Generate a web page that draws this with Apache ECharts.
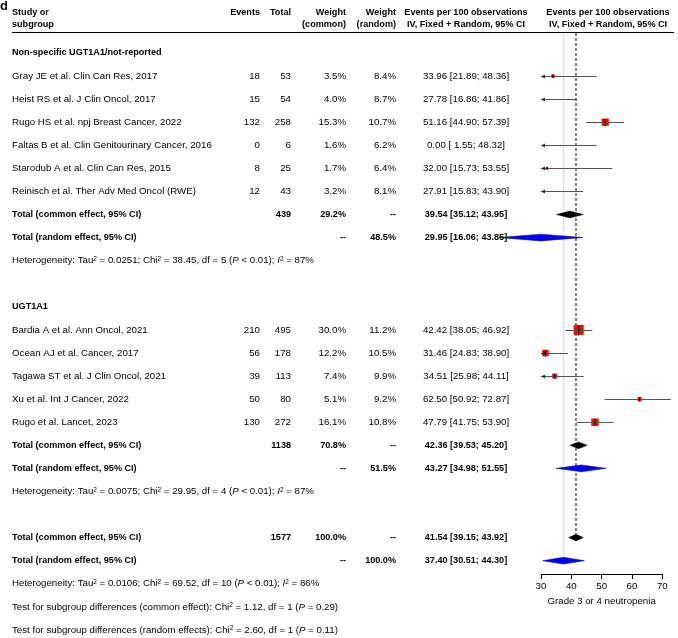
<!DOCTYPE html>
<html><head><meta charset="utf-8">
<script src="https://cdn.jsdelivr.net/npm/echarts@6/dist/echarts.min.js"></script>
<style>html,body{margin:0;padding:0;background:#fff}#c{width:678px;height:638px}</style>
</head><body><div id="c"></div>
<script>
// ---------------- DATA ----------------
const group1Label = 'Non-specific UGT1A1/not-reported';
const group1Studies = ['Gray JE et al. Clin Can Res, 2017', 'Heist RS et al. J Clin Oncol, 2017', 'Rugo HS et al. npj Breast Cancer, 2022', 'Faltas B et al. Clin Genitourinary Cancer, 2016', 'Starodub A et al. Clin Can Res, 2015', 'Reinisch et al. Ther Adv Med Oncol (RWE)'];
const group1Events = [18, 15, 132, 0, 8, 12];
const group1Totals = [53, 54, 258, 6, 25, 43];
const group1WCommon = [3.5, 4.0, 15.3, 1.6, 1.7, 3.2];
const group1WRandom = [8.4, 8.7, 10.7, 6.2, 6.4, 8.1];
const group1Est = [33.96, 27.78, 51.16, 0.00, 32.00, 27.91];
const group1Lo = [21.89, 16.86, 44.90, 1.55, 15.73, 15.83];
const group1Hi = [48.36, 41.86, 57.39, 48.32, 53.55, 43.90];
const group1Common = [39.54, 35.12, 43.95];
const group1Random = [29.95, 16.06, 43.85];
const group1N = 439, group1SumWCommon = 29.2, group1SumWRandom = 48.5;

const group2Label = 'UGT1A1';
const group2Studies = ['Bardia A et al. Ann Oncol, 2021', 'Ocean AJ et al. Cancer, 2017', 'Tagawa ST et al. J Clin Oncol, 2021', 'Xu et al. Int J Cancer, 2022', 'Rugo et al. Lancet, 2023'];
const group2Events = [210, 56, 39, 50, 130];
const group2Totals = [495, 178, 113, 80, 272];
const group2WCommon = [30.0, 12.2, 7.4, 5.1, 16.1];
const group2WRandom = [11.2, 10.5, 9.9, 9.2, 10.8];
const group2Est = [42.42, 31.46, 34.51, 62.50, 47.79];
const group2Lo = [38.05, 24.83, 25.98, 50.92, 41.75];
const group2Hi = [46.92, 38.90, 44.11, 72.87, 53.90];
const group2Common = [42.36, 39.53, 45.20];
const group2Random = [43.27, 34.98, 51.55];
const group2N = 1138, group2SumWCommon = 70.8, group2SumWRandom = 51.5;

const overallCommon = [41.54, 39.15, 43.92];
const overallRandom = [37.40, 30.51, 44.30];
const overallN = 1577, overallSumWCommon = 100.0, overallSumWRandom = 100.0;

const hetTau2 = ['0.0251', '0.0075', '0.0106'];
const hetChi2 = ['38.45', '29.95', '69.52'];
const hetDf = [5, 4, 10];
const hetP = ['< 0.01', '< 0.01', '< 0.01'];
const hetI2 = [87, 87, 86];
const testLabels = ['common effect', 'random effects'];
const testChi2 = ['1.12', '2.60'];
const testDf = [1, 1];
const testP = ['0.29', '0.11'];

const xTicks = [30, 40, 50, 60, 70];
const xTitle = 'Grade 3 or 4 neutropenia';
const summaryLabels = ['Total (common effect, 95% CI)', 'Total (random effect, 95% CI)'];

// ---------------- LAYOUT ----------------
const FONT = '"Liberation Sans", Arial, Helvetica, sans-serif';
const FS = 9.7, FSB = 9.1;
const ROW0 = 76, STEP = 23.08;
const COL = { name: 12, events: 260, total: 291, wc: 346, wr: 396, ci: 466, plot: 608 };
const PLOT_L = 541, PLOT_R = 662.3, AXIS_Y = 574, LINE_TOP = 33;

const cells = [];
function add(x, r, text, align, bold) { cells.push({ x, r, text, align, bold }); }
const f2 = v => v.toFixed(2);
const ciText = (e, l, h) => f2(e) + ' [' + f2(l).padStart(5, ' ') + '; ' + f2(h) + ']';
const pct = v => v.toFixed(1) + '%';
const hetText = i => 'Heterogeneity: Tau{sup|2} = ' + hetTau2[i] + '; Chi{sup|2} = ' + hetChi2[i] +
  ', df = ' + hetDf[i] + ' ({i|P} ' + hetP[i] + '); {i|I}{sup|2} = ' + hetI2[i] + '%';

const studyMarks = [];   // [lo, hi, row, est, wCommon]
const diamonds = [];     // [est, lo, hi, row, kind]

const groups = [
  { label: group1Label, studies: group1Studies, ev: group1Events, tot: group1Totals, wc: group1WCommon, wr: group1WRandom, est: group1Est, lo: group1Lo, hi: group1Hi, com: group1Common, ran: group1Random, n: group1N, swc: group1SumWCommon, swr: group1SumWRandom, r0: -1 },
  { label: group2Label, studies: group2Studies, ev: group2Events, tot: group2Totals, wc: group2WCommon, wr: group2WRandom, est: group2Est, lo: group2Lo, hi: group2Hi, com: group2Common, ran: group2Random, n: group2N, swc: group2SumWCommon, swr: group2SumWRandom, r0: 10 }
];
function addSummary(rC, n, swc, swr, com, ran) {
  add(COL.name, rC, summaryLabels[0], 'left', true);
  add(COL.total, rC, String(n), 'right', true);
  add(COL.wc, rC, pct(swc), 'right', true);
  add(COL.wr, rC, '--', 'right', true);
  add(COL.ci, rC, ciText(com[0], com[1], com[2]), 'center', true);
  add(COL.name, rC + 1, summaryLabels[1], 'left', true);
  add(COL.wc, rC + 1, '--', 'right', true);
  add(COL.wr, rC + 1, pct(swr), 'right', true);
  add(COL.ci, rC + 1, ciText(ran[0], ran[1], ran[2]), 'center', true);
  diamonds.push([com[0], com[1], com[2], rC, 0]);
  diamonds.push([ran[0], ran[1], ran[2], rC + 1, 1]);
}
groups.forEach((g, gi) => {
  add(COL.name, g.r0, g.label, 'left', true);
  g.studies.forEach((s, i) => {
    const r = g.r0 + 1 + i;
    add(COL.name, r, s, 'left', false);
    add(COL.events, r, String(g.ev[i]), 'right', false);
    add(COL.total, r, String(g.tot[i]), 'right', false);
    add(COL.wc, r, pct(g.wc[i]), 'right', false);
    add(COL.wr, r, pct(g.wr[i]), 'right', false);
    add(COL.ci, r, ciText(g.est[i], g.lo[i], g.hi[i]), 'center', false);
    studyMarks.push([g.lo[i], g.hi[i], r, g.est[i], g.wc[i]]);
  });
  const rC = g.r0 + 1 + g.studies.length;
  addSummary(rC, g.n, g.swc, g.swr, g.com, g.ran);
  add(COL.name, rC + 2, hetText(gi), 'left', false);
});
const rO = 20;
addSummary(rO, overallN, overallSumWCommon, overallSumWRandom, overallCommon, overallRandom);
add(COL.name, rO + 2, hetText(2), 'left', false);
testLabels.forEach((t, i) => {
  add(COL.name, rO + 3 + i, 'Test for subgroup differences (' + t + '): Chi{sup|2} = ' + testChi2[i] + ', df = ' + testDf[i] + ' ({i|P} = ' + testP[i] + ')', 'left', false);
});
const refLines = [[overallCommon[0], (LINE_TOP - ROW0) / STEP, rO, 0], [overallRandom[0], (LINE_TOP - ROW0) / STEP, rO + 1, 1]];

const rich = {
  sup: { fontSize: 6.5, fontFamily: FONT, verticalAlign: 'top', fill: '#000' },
  i: { fontStyle: 'italic', fontSize: FS, fontFamily: FONT, fill: '#000' }
};

// grids
const tMin = -3, tMax = 24;
const fMin = -2, fMax = (AXIS_Y - ROW0) / STEP;
const W = 678, H = 638;

const chart = echarts.init(document.getElementById('c'), null, { renderer: 'canvas' });
const xMin = xTicks[0], xMax = xTicks[xTicks.length - 1];
chart.setOption({
  animation: false,
  backgroundColor: '#fff',
  grid: [
    { left: 0, right: 0, top: ROW0 + STEP * tMin, bottom: H - (ROW0 + STEP * tMax) },
    { left: PLOT_L, right: W - PLOT_R, top: ROW0 + STEP * fMin, bottom: H - AXIS_Y }
  ],
  xAxis: [
    { gridIndex: 0, type: 'value', min: 0, max: W, show: false },
    { gridIndex: 1, type: 'value', position: 'bottom', min: xMin, max: xMax, interval: xTicks[1] - xTicks[0],
      axisLine: { show: true, onZero: false, lineStyle: { color: '#000', width: 1 } },
      axisTick: { show: true, length: 5, lineStyle: { color: '#000' } },
      axisLabel: { color: '#000', fontSize: 9.7, fontFamily: FONT, margin: 7 },
      splitLine: { show: false },
      name: xTitle, nameLocation: 'middle', nameGap: 21,
      nameTextStyle: { color: '#000', fontSize: 9.7, fontFamily: FONT } }
  ],
  yAxis: [
    { gridIndex: 0, type: 'value', min: tMin, max: tMax, inverse: true, show: false },
    { gridIndex: 1, type: 'value', min: fMin, max: fMax, inverse: true, show: false }
  ],
  graphic: [
    { type: 'text', left: 0, top: 0, style: { text: 'd', fontSize: 13, fontWeight: 'bold', fontFamily: FONT, fill: '#000' } },
    { type: 'line', shape: { x1: 12, y1: LINE_TOP - 0.5, x2: 674, y2: LINE_TOP - 0.5 }, style: { stroke: '#000', lineWidth: 1 } },
    ...[
      ['Study or', COL.name, 12, 'left'], ['subgroup', COL.name, 24.5, 'left'],
      ['Events', COL.events, 12, 'right'], ['Total', COL.total, 12, 'right'],
      ['Weight', COL.wc, 12, 'right'], ['(common)', COL.wc, 24.5, 'right'],
      ['Weight', COL.wr, 12, 'right'], ['(random)', COL.wr, 24.5, 'right'],
      ['Events per 100 observations', COL.ci, 12, 'center'], ['IV, Fixed + Random, 95% CI', COL.ci, 24.5, 'center'],
      ['Events per 100 observations', COL.plot, 12, 'center'], ['IV, Fixed + Random, 95% CI', COL.plot, 24.5, 'center']
    ].map(h => ({ type: 'text', x: h[1], y: h[2], style: { text: h[0], fontSize: FSB, fontWeight: 'bold', fontFamily: FONT, fill: '#000', align: h[3], verticalAlign: 'middle' } }))
  ],
  series: [
    { type: 'custom', name: 'table', xAxisIndex: 0, yAxisIndex: 0, z: 1,
      data: cells.map((c, i) => [c.x, c.r, i]),
      renderItem: (params, api) => {
        const c = cells[api.value(2)];
        const p = api.coord([api.value(0), api.value(1)]);
        return { type: 'text', x: p[0], y: p[1], style: {
          text: c.text, fill: '#000', fontSize: c.bold ? FSB : FS, fontWeight: c.bold ? 'bold' : 'normal',
          fontFamily: FONT, align: c.align, verticalAlign: 'middle', rich: rich } };
      } },
    { type: 'custom', name: 'reference', xAxisIndex: 1, yAxisIndex: 1, z: 2, data: refLines,
      renderItem: (params, api) => {
        const a = api.coord([api.value(0), api.value(1)]);
        const b = api.coord([api.value(0), api.value(2)]);
        const k = api.value(3);
        return { type: 'line', shape: { x1: a[0], y1: a[1], x2: b[0], y2: b[1] },
          style: k === 0 ? { stroke: '#000', lineWidth: 1, lineDash: [3, 2] } : { stroke: '#bdbdbd', lineWidth: 1, lineDash: [1, 1] } };
      } },
    { type: 'custom', name: 'squares', xAxisIndex: 1, yAxisIndex: 1, z: 3,
      data: studyMarks.filter(d => d[3] >= xMin),
      renderItem: (params, api) => {
        const p = api.coord([api.value(3), api.value(2)]);
        const s = 1.83 * Math.sqrt(api.value(4));
        return { type: 'rect', shape: { x: p[0] - s / 2, y: p[1] - s / 2, width: s, height: s }, style: { fill: '#ff0000' } };
      } },
    { type: 'custom', name: 'ci', xAxisIndex: 1, yAxisIndex: 1, z: 4, data: studyMarks,
      renderItem: (params, api) => {
        const lo = api.value(0), hi = api.value(1), r = api.value(2), est = api.value(3);
        const a = api.coord([Math.max(lo, xMin), r]);
        const b = api.coord([hi, r]);
        const y = Math.round(a[1]) + 0.5;
        const ch = [{ type: 'line', shape: { x1: a[0], y1: y, x2: b[0], y2: y }, style: { stroke: '#555', lineWidth: 1 } }];
        if (lo < xMin) {
          ch.push({ type: 'polygon', shape: { points: [[a[0], y], [a[0] + 4, y - 2], [a[0] + 4, y + 2]] }, style: { fill: '#333' } });
        }
        if (est >= xMin) {
          const e = api.coord([est, r]);
          const s = Math.max(3, 1.83 * Math.sqrt(api.value(4)));
          ch.push({ type: 'line', shape: { x1: e[0], y1: y - s / 2, x2: e[0], y2: y + s / 2 }, style: { stroke: '#000', lineWidth: 1 } });
        }
        return { type: 'group', children: ch };
      } },
    { type: 'custom', name: 'diamonds', xAxisIndex: 1, yAxisIndex: 1, z: 5, data: diamonds,
      renderItem: (params, api) => {
        const r = api.value(3);
        const e = api.coord([api.value(0), r]);
        const l = api.coord([api.value(1), r]);
        const h = api.coord([api.value(2), r]);
        const hh = 3.4;
        const blue = api.value(4) === 1;
        return { type: 'polygon', shape: { points: [[l[0], e[1]], [e[0], e[1] - hh], [h[0], e[1]], [e[0], e[1] + hh]] },
          style: { fill: blue ? '#0000ff' : '#000', stroke: blue ? '#000060' : '#000', lineWidth: 0.5 } };
      } }
  ]
});
</script></body></html>
